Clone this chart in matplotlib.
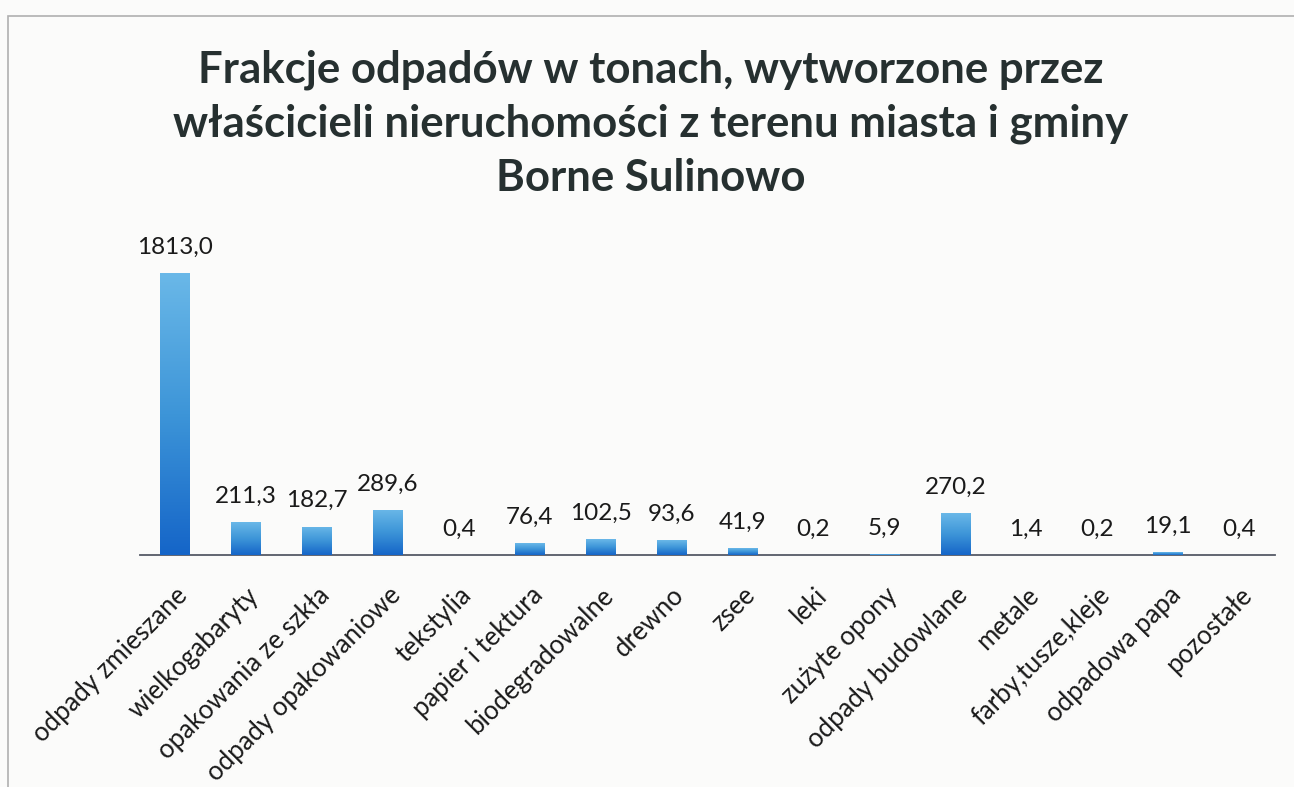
import matplotlib
matplotlib.use("Agg")
import matplotlib.pyplot as plt
import numpy as np
from matplotlib.colors import LinearSegmentedColormap
from matplotlib.patches import Rectangle

categories = ["odpady zmieszane", "wielkogabaryty", "opakowania ze szkła",
              "odpady opakowaniowe", "tekstylia", "papier i tektura",
              "biodegradowalne", "drewno", "zsee", "leki", "zużyte opony",
              "odpady budowlane", "metale", "farby,tusze,kleje",
              "odpadowa papa", "pozostałe"]
values = [1813.0, 211.3, 182.7, 289.6, 0.4, 76.4, 102.5, 93.6, 41.9, 0.2,
          5.9, 270.2, 1.4, 0.2, 19.1, 0.4]
labels = ["1813,0", "211,3", "182,7", "289,6", "0,4", "76,4", "102,5", "93,6",
          "41,9", "0,2", "5,9", "270,2", "1,4", "0,2", "19,1", "0,4"]
title = "Frakcje odpadów w tonach, wytworzone przez\nwłaścicieli nieruchomości z terenu miasta i gminy\nBorne Sulinowo"

plt.rcParams['font.family'] = ['Lato', 'DejaVu Sans']

fig = plt.figure(figsize=(12.94, 7.87), dpi=100)
fig.patch.set_facecolor("#fbfbfa")
ax = fig.add_axes([0.108, 0.2948, 0.877, 0.395])
ax.set_facecolor("none")

x = np.arange(len(values))
bars = ax.bar(x, values, width=0.42, color="#3f97d8", zorder=2)

cmap = LinearSegmentedColormap.from_list("g", ["#1565c8", "#3d95d8", "#6ab8e8"])
grad = np.linspace(0, 1, 256).reshape(-1, 1)
for b in bars:
    h = b.get_height()
    if h <= 0:
        continue
    x0 = b.get_x()
    w = b.get_width()
    im = ax.imshow(grad, cmap=cmap, aspect="auto", origin="lower",
                   extent=[x0, x0 + w, 0, max(h, 1)], zorder=3)
    im.set_clip_path(b)
ax.set_xlim(-0.5, len(values) - 0.5)
ax.set_ylim(0, 2000)

for xi, v, lab in zip(x, values, labels):
    ax.annotate(lab, (xi, v), xytext=(0, 11), textcoords="offset points",
                ha="center", va="bottom", fontsize=17.5, color="#1a1a1a")

ax.set_xticks(x)
ax.set_xticklabels(categories, rotation=45, ha="right", rotation_mode="anchor",
                   fontsize=18.5, color="#1a1a1a")
ax.tick_params(axis="x", length=0, pad=20)
ax.set_yticks([])
for s in ["left", "right", "top"]:
    ax.spines[s].set_visible(False)
ax.spines["bottom"].set_color("#555a66")
ax.spines["bottom"].set_linewidth(1.3)

fig.text(0.503, 0.937, title, ha="center", va="top", fontsize=31.5,
         fontweight="bold", color="#263030", linespacing=1.42)

fig.patches.append(Rectangle((0.006, -0.01), 1.2, 0.99, transform=fig.transFigure,
                             fill=False, edgecolor="#b0b0b0", linewidth=1.2))

fig.savefig("out.png", dpi=100, facecolor=fig.get_facecolor())
